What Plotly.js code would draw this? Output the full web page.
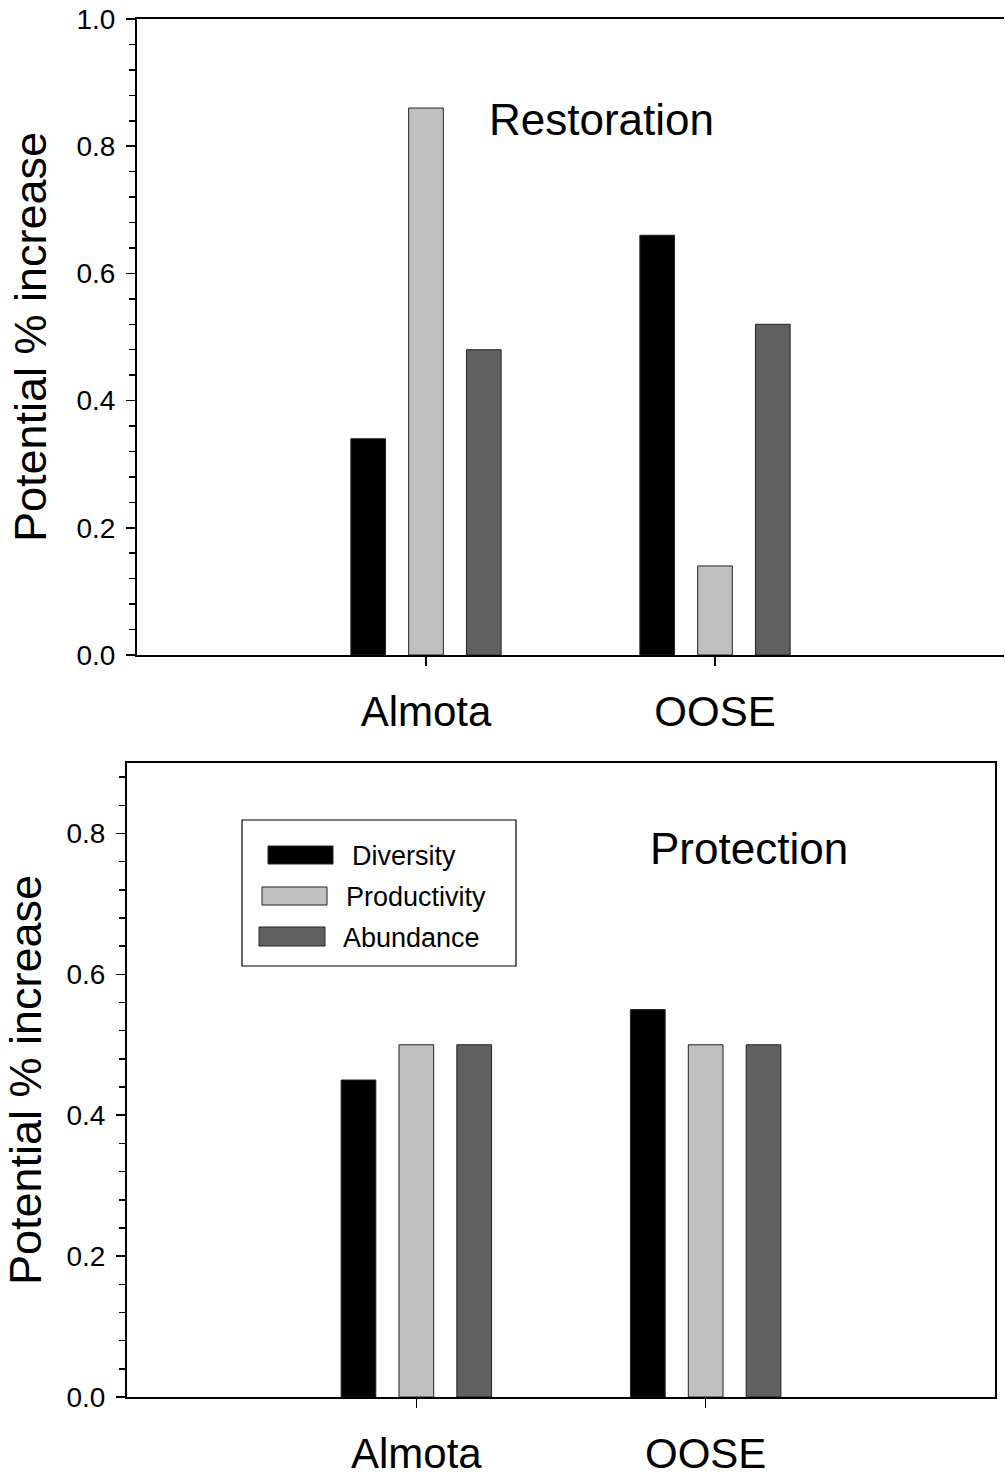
<!DOCTYPE html>
<html><head><meta charset="utf-8">
<script src="https://cdn.plot.ly/plotly-3.0.1.min.js"></script>
<style>html,body{margin:0;padding:0;background:#fff}#chart{width:1005px;height:1479px}</style>
</head><body><div id="chart"></div>
<script>
// ---- data ----
const sites = ['Almota', 'OOSE'];
const seriesNames = ['Diversity', 'Productivity', 'Abundance'];
const seriesColors = ['#000000', '#c0c0c0', '#606060'];
const restorationDiversity = [0.34, 0.66];
const restorationProductivity = [0.86, 0.14];
const restorationAbundance = [0.48, 0.52];
const protectionDiversity = [0.45, 0.55];
const protectionProductivity = [0.50, 0.50];
const protectionAbundance = [0.50, 0.50];
const panelTitles = ['Restoration', 'Protection'];
const yTitle = 'Potential % increase';

// ---- helpers ----
const W = 1005, H = 1479;
const px = x => x / W;
const py = y => 1 - y / H;
const FONT = 'Arial, "Liberation Sans", sans-serif';

const restoration = [restorationDiversity, restorationProductivity, restorationAbundance];
const protection = [protectionDiversity, protectionProductivity, protectionAbundance];

const traces = [];
function addPanel(values, xa, ya) {
  values.forEach((vals, i) => {
    traces.push({
      type: 'bar', x: sites, y: vals, name: seriesNames[i], xaxis: xa, yaxis: ya,
      marker: {color: seriesColors[i], line: {color: '#222', width: 1}},
      showlegend: false, hoverinfo: 'skip'
    });
  });
}
addPanel(restoration, 'x', 'y');
addPanel(protection, 'x2', 'y2');

function xAxis(domain, anchor) {
  return {
    domain: domain, anchor: anchor, type: 'category', range: [-1, 2],
    showline: true, linewidth: 2, linecolor: '#000', mirror: true,
    ticks: 'outside', ticklen: 9, tickwidth: 1.5, tickcolor: '#000',
    tickfont: {size: 42, family: FONT, color: '#000'}, ticklabelstandoff: 10,
    showgrid: false, zeroline: false, fixedrange: true
  };
}
function yAxis(domain, anchor, range, mirror, standoff) {
  return {
    domain: domain, anchor: anchor, range: range, tick0: 0, dtick: 0.2, tickformat: '.1f',
    showline: true, linewidth: 2, linecolor: '#000', mirror: mirror,
    ticks: 'outside', ticklen: 9, tickwidth: 1.5, tickcolor: '#000',
    minor: {tick0: 0, dtick: 0.04, ticks: 'outside', ticklen: 6, tickwidth: 1.5, tickcolor: '#000', showgrid: false},
    tickfont: {size: 28, family: FONT, color: '#000'}, ticklabelstandoff: 5,
    title: {text: yTitle, font: {size: 45, family: FONT, color: '#000'}, standoff: standoff},
    showgrid: false, zeroline: false, fixedrange: true
  };
}

const shapes = [];
const annotations = [
  {text: panelTitles[0], xref: 'paper', yref: 'paper', x: px(601), y: py(119), xanchor: 'center', yanchor: 'middle', showarrow: false, font: {size: 44, family: FONT, color: '#000'}},
  {text: panelTitles[1], xref: 'paper', yref: 'paper', x: px(749), y: py(848), xanchor: 'center', yanchor: 'middle', showarrow: false, font: {size: 44, family: FONT, color: '#000'}}
];
// legend box (drawn in the lower panel)
shapes.push({type: 'rect', xref: 'paper', yref: 'paper', x0: px(242), x1: px(516), y0: py(966), y1: py(820), line: {color: '#000', width: 1.2}, fillcolor: '#fff', layer: 'above'});
const swatchX = [[268, 333], [262, 327], [259, 325]];
const swatchY = [[846, 864], [887, 905], [927, 946]];
const labelX = [350, 344, 341];
seriesNames.forEach((n, i) => {
  shapes.push({type: 'rect', xref: 'paper', yref: 'paper', x0: px(swatchX[i][0]), x1: px(swatchX[i][1]), y0: py(swatchY[i][1]), y1: py(swatchY[i][0]), line: {color: '#222', width: 1}, fillcolor: seriesColors[i], layer: 'above'});
  annotations.push({text: n, xref: 'paper', yref: 'paper', x: px(labelX[i]), y: py((swatchY[i][0] + swatchY[i][1]) / 2 + 1), xanchor: 'left', yanchor: 'middle', showarrow: false, font: {size: 27, family: FONT, color: '#000'}});
});

const layout = {
  width: W, height: H, margin: {l: 0, r: 0, t: 0, b: 0},
  paper_bgcolor: '#fff', plot_bgcolor: '#fff',
  font: {family: FONT, color: '#000'},
  barmode: 'group', bargap: 0.4, bargroupgap: 0.4, showlegend: false,
  xaxis: xAxis([px(137), px(1004)], 'y'),
  yaxis: yAxis([py(655), py(19)], 'x', [0, 1], false, 16),
  xaxis2: xAxis([px(127), px(995)], 'y2'),
  yaxis2: yAxis([py(1397), py(763)], 'x2', [0, 0.9], true, 14),
  shapes: shapes, annotations: annotations
};

Plotly.newPlot('chart', traces, layout, {displayModeBar: false, staticPlot: true});
</script>
</body></html>
